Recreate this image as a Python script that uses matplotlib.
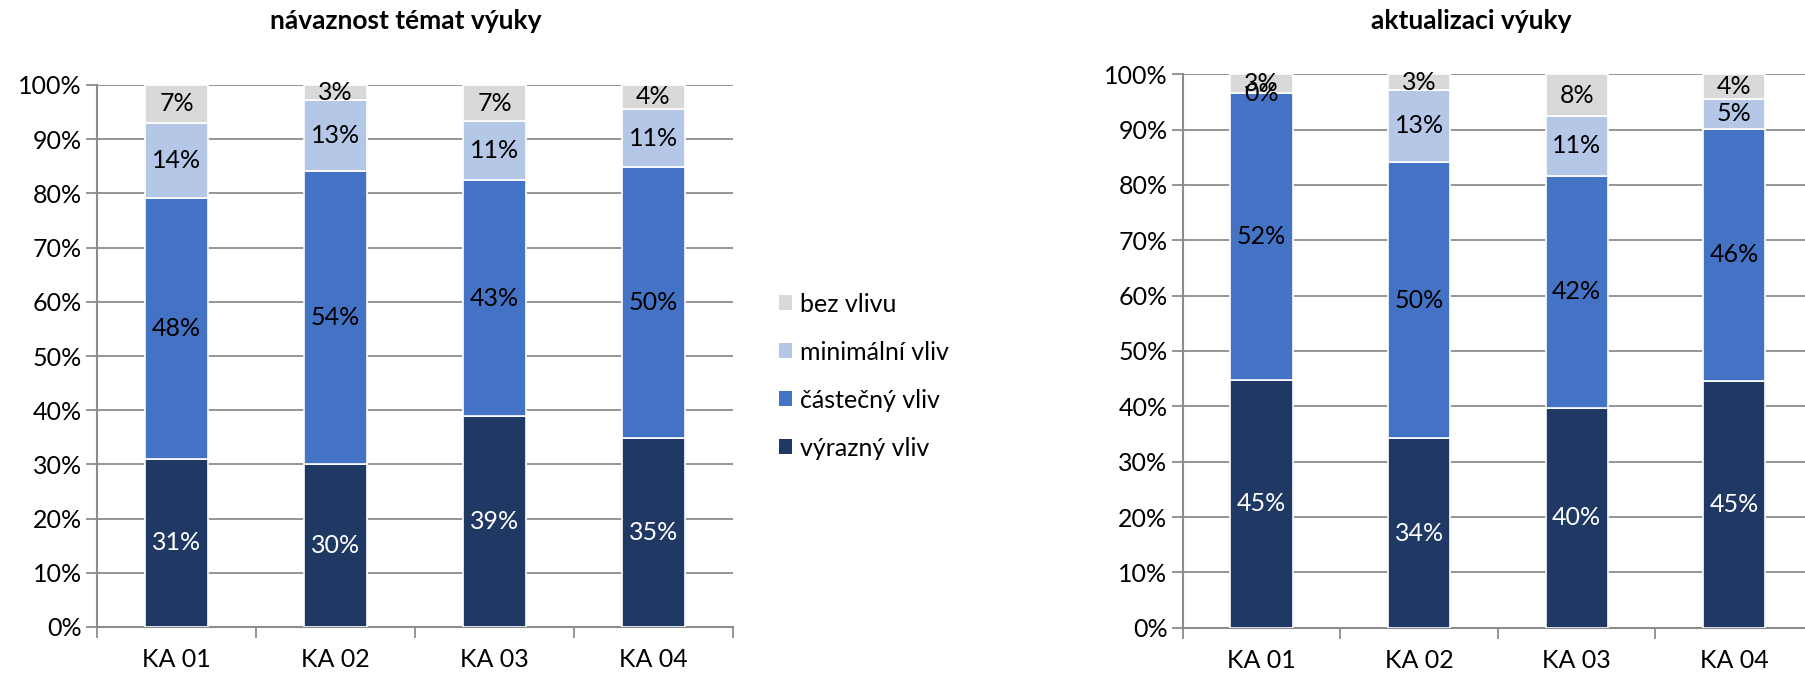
import matplotlib.pyplot as plt
from matplotlib.patches import Patch
import numpy as np

plt.rcParams['font.family'] = ['Lato', 'DejaVu Sans']

categories = ['KA 01', 'KA 02', 'KA 03', 'KA 04']
series_names = ['výrazný vliv', 'částečný vliv', 'minimální vliv', 'bez vlivu']
colors = ['#203864', '#4472C4', '#B4C7E7', '#D9D9D9']
label_colors = ['white', 'black', 'black', 'black']

# navaznost temat vyuky (percent)
left_vyrazny = [31.0, 30.0, 39.0, 34.8]
left_castecny = [48.2, 54.2, 43.4, 50.0]
left_minimalni = [13.8, 13.0, 10.9, 10.8]
left_bez = [7.0, 2.8, 6.7, 4.4]

# aktualizaci vyuky (percent)
right_vyrazny = [44.8, 34.2, 39.7, 44.6]
right_castecny = [51.8, 50.0, 42.0, 45.6]
right_minimalni = [0.0, 13.0, 10.7, 5.4]
right_bez = [3.4, 2.8, 7.6, 4.4]

W, H = 1805, 674
fig = plt.figure(figsize=(W / 100, H / 100), dpi=100)

grid_col = '#8C8C8C'
fs = 18


def px_axes(left, right, top, bottom):
    return fig.add_axes([left / W, 1 - bottom / H, (right - left) / W, (bottom - top) / H])


def draw_panel(ax, series):
    x = np.arange(len(categories))
    bottom = np.zeros(len(categories))
    for vals, col, tcol in zip(series, colors, label_colors):
        vals = np.array(vals)
        ax.bar(x, vals, 0.394, bottom=bottom, color=col, edgecolor='white',
               linewidth=1.2, zorder=3)
        for xi, b, v in zip(x, bottom, vals):
            ax.text(xi, b + v / 2, f'{v:.0f}%', ha='center', va='center',
                    color=tcol, fontsize=fs, zorder=4)
        bottom += vals
    ax.set_xlim(-0.5, len(categories) - 0.5)
    ax.set_ylim(0, 100)
    ax.set_yticks(np.arange(0, 101, 10))
    ax.set_yticklabels([f'{v}%' for v in range(0, 101, 10)], fontsize=fs)
    ax.yaxis.grid(True, color=grid_col, linewidth=1.3, zorder=0)
    ax.set_axisbelow(True)
    ax.set_xticks(x)
    ax.set_xticklabels(categories, fontsize=fs)
    ax.set_xticks(np.arange(-0.5, len(categories)), minor=True)
    ax.tick_params(axis='x', which='major', length=0, pad=15)
    ax.tick_params(axis='x', which='minor', length=8, width=1.3, color=grid_col, direction='out')
    ax.tick_params(axis='y', length=8, width=1.3, color=grid_col, pad=3)
    for s in ['top', 'right']:
        ax.spines[s].set_visible(False)
    for s in ['left', 'bottom']:
        ax.spines[s].set_color(grid_col)
        ax.spines[s].set_linewidth(1.5)


ax1 = px_axes(97, 733, 85, 627)
draw_panel(ax1, [left_vyrazny, left_castecny, left_minimalni, left_bez])

ax2 = px_axes(1182.7, 1813, 74.3, 627.7)
draw_panel(ax2, [right_vyrazny, right_castecny, right_minimalni, right_bez])

fig.text(406 / W, 1 - 21 / H, 'návaznost témat výuky', ha='center', va='center',
         fontsize=19, fontweight='bold')
fig.text(1471 / W, 1 - 21 / H, 'aktualizaci výuky', ha='center', va='center',
         fontsize=19, fontweight='bold')

handles = [Patch(facecolor=c, edgecolor='none') for c in colors][::-1]
fig.legend(handles, series_names[::-1], loc='center left',
           bbox_to_anchor=(756 / W, 1 - 376 / H), frameon=False, fontsize=fs,
           handlelength=0.55, handleheight=0.55, handletextpad=0.3,
           labelspacing=1.0)

fig.savefig('out.png', dpi=100)
